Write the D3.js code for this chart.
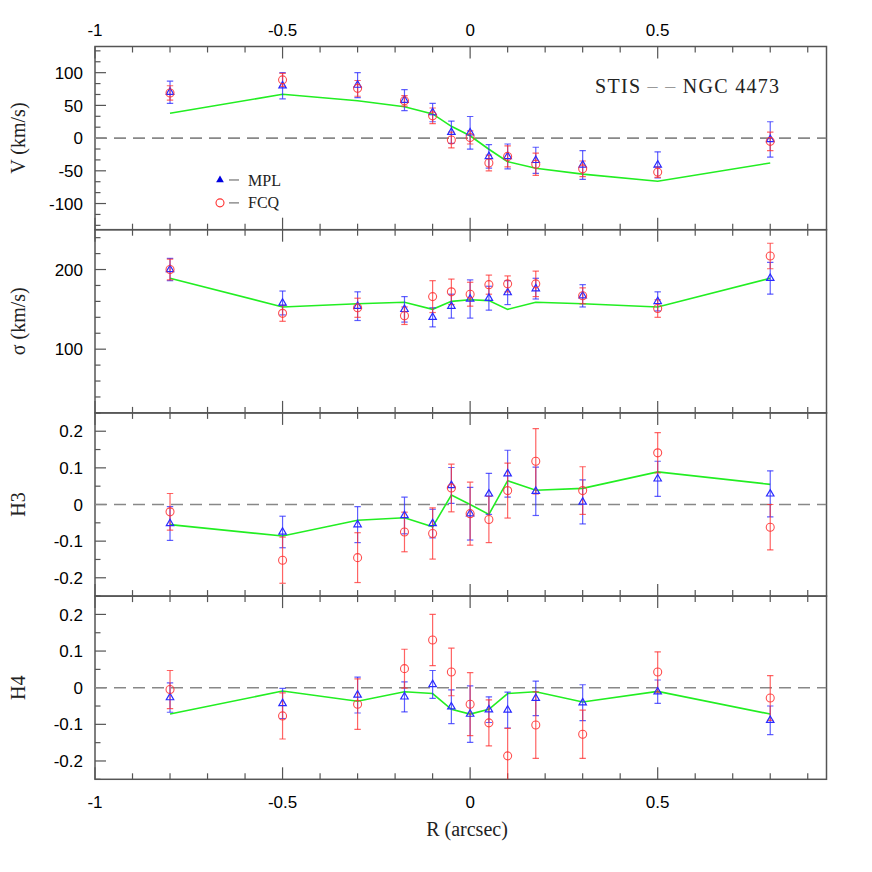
<!DOCTYPE html>
<html><head><meta charset="utf-8">
<script src="https://cdn.jsdelivr.net/npm/d3@7"></script>
<style>body{margin:0;background:#fff}svg{display:block}</style>
</head><body>
<script>
const R = [-0.8,-0.5,-0.3,-0.175,-0.1,-0.05,0,0.05,0.1,0.175,0.3,0.5,0.8];
const xTickLabels = ["-1","-0.5","0","0.5"];

const mplV = [70,80,81,58,39,9,8,-28,-28,-34,-41,-41,-2];
const mplVErr = [17,20,19,16,14,17,25,18,19,20,22,20,27];
const fcqV = [69,89,76,57,34,-3,1,-38,-28,-40,-47,-52,-5];
const fcqVErr = [11,10,12,8,12,12,10,12,16,17,12,8,14];
const modV = [38,67,57,48,37,18,3.5,-17,-36,-46,-55,-66,-38];

const mplS = [200,158,154,150,140,154,163,164,171,176,167,160,189];
const mplSErr = [14,15,18,16,12,15,24,15,15,13,14,12,20];
const fcqS = [200,145,152,142,166,172,169,181,182,182,167,151,217];
const fcqSErr = [13,10,12,11,20,16,15,12,10,16,10,11,16];
const modS = [189,153,157,159,150,160,162,161,150,159,157,153,189];

const mplH3 = [-0.052,-0.075,-0.055,-0.03,-0.052,0.052,-0.025,0.029,0.084,0.036,0.007,0.07,0.029];
const mplH3Err = [0.046,0.043,0.049,0.05,0.039,0.049,0.072,0.056,0.064,0.066,0.06,0.048,0.063];
const fcqH3 = [-0.02,-0.152,-0.145,-0.075,-0.079,0.045,-0.025,-0.041,0.038,0.118,0.038,0.141,-0.062];
const fcqH3Err = [0.05,0.063,0.068,0.054,0.07,0.065,0.086,0.063,0.075,0.089,0.065,0.055,0.062];
const modH3 = [-0.055,-0.086,-0.043,-0.036,-0.061,0.026,0.0,-0.027,0.065,0.039,0.044,0.089,0.055];

const mplH4 = [-0.027,-0.043,-0.02,-0.025,0.009,-0.052,-0.072,-0.06,-0.061,-0.029,-0.041,-0.011,-0.089];
const mplH4Err = [0.04,0.041,0.049,0.041,0.038,0.046,0.077,0.035,0.049,0.047,0.049,0.032,0.039];
const fcqH4 = [-0.005,-0.077,-0.045,0.052,0.13,0.043,-0.045,-0.096,-0.186,-0.102,-0.127,0.043,-0.028];
const fcqH4Err = [0.052,0.063,0.069,0.053,0.07,0.065,0.086,0.063,0.075,0.091,0.066,0.055,0.061];
const modH4 = [-0.072,-0.009,-0.037,-0.011,-0.016,-0.059,-0.072,-0.059,-0.016,-0.011,-0.039,-0.01,-0.072];

const panels = [
  {title:"V (km/s)", domain:[-140,140], minorStep:50/3, majorStep:50, labels:["100","50","0","-50","-100"], labelVals:[100,50,0,-50,-100], zero:true,
   mpl:mplV, mplErr:mplVErr, fcq:fcqV, fcqErr:fcqVErr, mod:modV},
  {title:"σ (km/s)", domain:[20,250], minorStep:20, majorStep:100, labels:["200","100"], labelVals:[200,100], zero:false,
   mpl:mplS, mplErr:mplSErr, fcq:fcqS, fcqErr:fcqSErr, mod:modS},
  {title:"H3", domain:[-0.25,0.25], minorStep:0.05, majorStep:0.1, labels:["0.2","0.1","0","-0.1","-0.2"], labelVals:[0.2,0.1,0,-0.1,-0.2], zero:true,
   mpl:mplH3, mplErr:mplH3Err, fcq:fcqH3, fcqErr:fcqH3Err, mod:modH3},
  {title:"H4", domain:[-0.25,0.25], minorStep:0.05, majorStep:0.1, labels:["0.2","0.1","0","-0.1","-0.2"], labelVals:[0.2,0.1,0,-0.1,-0.2], zero:true,
   mpl:mplH4, mplErr:mplH4Err, fcq:fcqH4, fcqErr:fcqH4Err, mod:modH4}
];

const W = 872, H = 872;
const left = 95, right = 826.5, top0 = 46.5, ph = 183.2;
const x = d3.scaleLinear().domain([-1, 0.95]).range([left, right]);
const svg = d3.select("body").append("svg").attr("width", W).attr("height", H);
const axisCol = "#555";
const sansFont = "'Liberation Sans', Arial, sans-serif";
const serifFont = "'Liberation Serif', 'DejaVu Serif', serif";
const blue = "#2a2aff", red = "#ff3030", green = "#22ee22";

const xMinor = d3.range(-10, 10).map(i => i/10);

panels.forEach((p, i) => {
  const t = top0 + i*ph, b = t + ph;
  const y = d3.scaleLinear().domain(p.domain).range([b, t]);
  const g = svg.append("g");
  const clipId = "clip"+i;
  svg.append("clipPath").attr("id", clipId).append("rect")
    .attr("x", left).attr("y", t).attr("width", right-left).attr("height", ph);

  xMinor.forEach(v => {
    const major = Math.abs(Math.round(v*10) % 5) === 0;
    const len = major ? 12 : 6;
    g.append("line").attr("x1", x(v)).attr("x2", x(v)).attr("y1", t).attr("y2", t+len)
      .attr("stroke", axisCol).attr("stroke-width", 1.2);
    g.append("line").attr("x1", x(v)).attr("x2", x(v)).attr("y1", b).attr("y2", b-len)
      .attr("stroke", axisCol).attr("stroke-width", 1.2);
  });
  const n0 = Math.ceil(p.domain[0]/p.minorStep - 1e-6), n1 = Math.floor(p.domain[1]/p.minorStep + 1e-6);
  for (let k = n0; k <= n1; k++) {
    const v = k*p.minorStep;
    const r = v/p.majorStep;
    const major = Math.abs(r - Math.round(r)) < 1e-6;
    g.append("line").attr("x1", left).attr("x2", left + (major ? 11 : 5.5))
      .attr("y1", y(v)).attr("y2", y(v)).attr("stroke", axisCol).attr("stroke-width", 1.2);
  }
  p.labelVals.forEach((v, j) => {
    g.append("text").attr("x", 83).attr("y", y(v)).attr("dy", "0.36em")
      .attr("text-anchor", "end").attr("font-family", sansFont).attr("font-size", 17)
      .attr("fill", "#000").text(p.labels[j]);
  });
  g.append("text").attr("transform", `translate(25,${(t+b)/2}) rotate(-90)`)
    .attr("text-anchor", "middle").attr("font-family", serifFont).attr("font-size", 20)
    .attr("fill", "#222").text(p.title);

  g.append("rect").attr("x", left).attr("y", t).attr("width", right-left).attr("height", ph)
    .attr("fill", "none").attr("stroke", axisCol).attr("stroke-width", 1.5);

  const cg = svg.append("g").attr("clip-path", `url(#${clipId})`);
  if (p.zero) {
    cg.append("line").attr("x1", left).attr("x2", right).attr("y1", y(0)).attr("y2", y(0))
      .attr("stroke", "#888").attr("stroke-width", 1.6).attr("stroke-dasharray", "12,7");
  }
  cg.append("path").datum(R.map((r, j) => [r, p.mod[j]]))
    .attr("d", d3.line().x(d => x(d[0])).y(d => y(d[1])))
    .attr("fill", "none").attr("stroke", green).attr("stroke-width", 1.6);

  function errBars(vals, errs, col) {
    R.forEach((r, j) => {
      const xx = x(r), y1 = y(vals[j]+errs[j]), y2 = y(vals[j]-errs[j]);
      const eg = cg.append("g").attr("stroke", col).attr("stroke-width", 1.2).attr("stroke-opacity", 0.75);
      eg.append("line").attr("x1", xx).attr("x2", xx).attr("y1", y1).attr("y2", y2);
      eg.append("line").attr("x1", xx-3.2).attr("x2", xx+3.2).attr("y1", y1).attr("y2", y1);
      eg.append("line").attr("x1", xx-3.2).attr("x2", xx+3.2).attr("y1", y2).attr("y2", y2);
    });
  }
  errBars(p.mpl, p.mplErr, blue);
  errBars(p.fcq, p.fcqErr, red);
  R.forEach((r, j) => {
    cg.append("path").attr("d", d3.symbol(d3.symbolTriangle, 24)())
      .attr("transform", `translate(${x(r)},${y(p.mpl[j])})`)
      .attr("fill", "none").attr("stroke", blue).attr("stroke-width", 1.2);
    cg.append("circle").attr("cx", x(r)).attr("cy", y(p.fcq[j])).attr("r", 4)
      .attr("fill", "none").attr("stroke", red).attr("stroke-width", 1.1).attr("stroke-opacity", 0.85);
  });

  if (i === 0) {
    const ly1 = y(-64), ly2 = y(-99);
    svg.append("path").attr("d", d3.symbol(d3.symbolTriangle, 26)())
      .attr("transform", `translate(220,${ly1})`).attr("fill", "#0000e0");
    svg.append("line").attr("x1", 229).attr("x2", 239).attr("y1", ly1).attr("y2", ly1).attr("stroke", "#888").attr("stroke-width", 1.4);
    svg.append("text").attr("x", 248).attr("y", ly1).attr("dy", "0.35em").attr("font-family", serifFont)
      .attr("font-size", 16).attr("fill", "#222").text("MPL");
    svg.append("circle").attr("cx", 220).attr("cy", ly2).attr("r", 4)
      .attr("fill", "none").attr("stroke", red).attr("stroke-width", 1.1);
    svg.append("line").attr("x1", 229).attr("x2", 239).attr("y1", ly2).attr("y2", ly2).attr("stroke", "#888").attr("stroke-width", 1.4);
    svg.append("text").attr("x", 248).attr("y", ly2).attr("dy", "0.35em").attr("font-family", serifFont)
      .attr("font-size", 16).attr("fill", "#222").text("FCQ");
    const tt = svg.append("text").attr("x", 595).attr("y", y(79)).attr("dy", "0.35em")
      .attr("font-family", serifFont).attr("font-size", 20).attr("fill", "#222")
      .attr("textLength", 184).attr("lengthAdjust", "spacing");
    tt.append("tspan").text("STIS ");
    tt.append("tspan").attr("fill", "#999").text("– –");
    tt.append("tspan").text(" NGC 4473");
  }
});

const bottomY = top0 + 4*ph;
[-1,-0.5,0,0.5].forEach((v, j) => {
  svg.append("text").attr("x", x(v)).attr("y", 30).attr("dy", "0.36em").attr("text-anchor", "middle")
    .attr("font-family", sansFont).attr("font-size", 17).attr("fill", "#000").text(xTickLabels[j]);
  svg.append("text").attr("x", x(v)).attr("y", bottomY + 23).attr("dy", "0.36em").attr("text-anchor", "middle")
    .attr("font-family", sansFont).attr("font-size", 17).attr("fill", "#000").text(xTickLabels[j]);
});
svg.append("text").attr("x", 467).attr("y", bottomY + 50).attr("dy", "0.35em").attr("text-anchor", "middle")
  .attr("font-family", serifFont).attr("font-size", 20).attr("fill", "#222").text("R (arcsec)");
</script>
</body></html>
